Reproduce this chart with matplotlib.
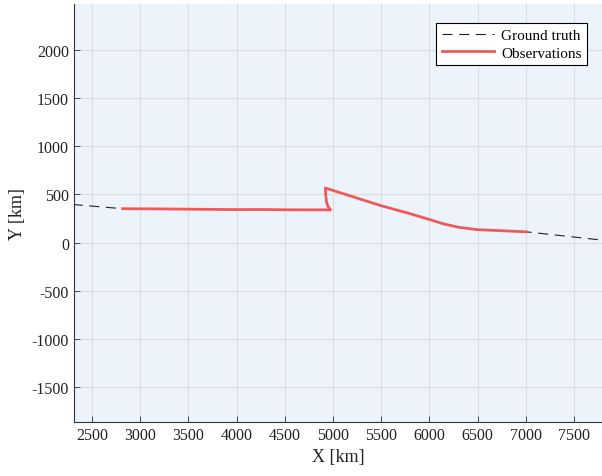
import numpy as np
import matplotlib
matplotlib.use("Agg")
import matplotlib.pyplot as plt

plt.rcParams['font.family'] = ['Liberation Serif', 'DejaVu Serif']
plt.rcParams['axes.unicode_minus'] = False

# Observations track (km)
obs_x = [2818, 3200, 3500, 4000, 4250, 4500, 4975, 4950, 4932, 4925, 4920,
         5200, 5500, 5800, 6000, 6145, 6300, 6490, 7005]
obs_y = [352, 350, 347, 343, 344, 341, 340, 370, 420, 490, 567,
         478, 383, 300, 240, 195, 160, 135, 112]

# Ground truth track (km)
gt_x = [2300] + obs_x + [7800]
gt_y = [396] + obs_y + [25]

xticks = [2500, 3000, 3500, 4000, 4500, 5000, 5500, 6000, 6500, 7000, 7500]
yticks = [-1500, -1000, -500, 0, 500, 1000, 1500, 2000]

fig = plt.figure(figsize=(6.02, 4.77), dpi=100)
ax = fig.add_axes([74/602, 1 - 423/477, (602 - 74)/602, (423 - 5)/477])
ax.set_facecolor('#ECF3FA')

ax.plot(gt_x, gt_y, color='#222222', lw=0.8, dashes=(9, 6), label='Ground truth', zorder=2)
ax.plot(obs_x, obs_y, color='#EE5A5A', lw=2.0, label='Observations', zorder=3)

ax.set_xlim(2313, 7790)
ax.set_ylim(-1863, 2478)
ax.set_xticks(xticks)
ax.set_yticks(yticks)
ax.grid(True, color='#DCDCDC', lw=0.8)
ax.set_axisbelow(True)
for s in ['top', 'right']:
    ax.spines[s].set_visible(False)
for s in ['left', 'bottom']:
    ax.spines[s].set_color('#333333')
    ax.spines[s].set_linewidth(0.8)
ax.tick_params(direction='in', length=4, width=0.6, colors='#333333',
               labelsize=11.5, labelcolor='#222222')
ax.set_xlabel('X [km]', fontsize=13, color='#222222', labelpad=4)
ax.set_ylabel('Y [km]', fontsize=13, color='#222222', labelpad=4)

leg = ax.legend(loc='upper right', bbox_to_anchor=((587 - 74) / 528, (423 - 24) / 418),
                fontsize=11, fancybox=False, framealpha=1, edgecolor='black',
                handlelength=3.4, borderpad=0.35, labelspacing=0.25,
                handletextpad=0.5, borderaxespad=0)
leg.get_frame().set_linewidth(0.8)

fig.savefig('out.png', dpi=100)
